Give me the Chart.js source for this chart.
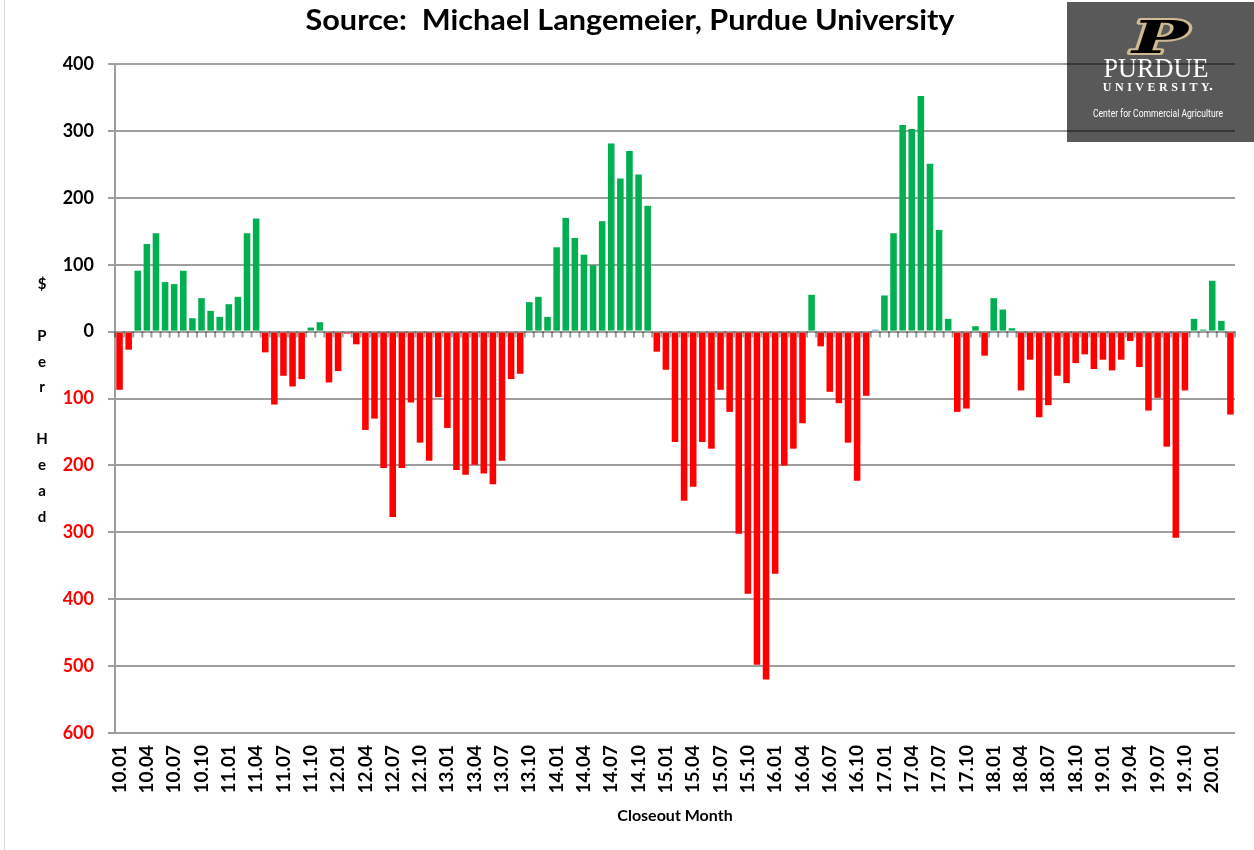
<!DOCTYPE html>
<html>
<head>
<meta charset="utf-8">
<script src="https://cdn.jsdelivr.net/npm/chart.js@4.4.0/dist/chart.umd.min.js"></script>
<style>
  html, body { margin: 0; padding: 0; background: #ffffff; }
  #wrap { width: 1254px; height: 850px; position: relative; }
</style>
</head>
<body>
<div id="wrap"><canvas id="c" width="1254" height="850"></canvas></div>
<script>
// ---------- DATA ----------
const startYear = 10;
const monthCount = 123; // 10.01 .. 20.03
const months = [];
for (let i = 0; i < monthCount; i++) {
  const yr = startYear + Math.floor(i / 12);
  const mo = (i % 12) + 1;
  months.push(yr + '.' + String(mo).padStart(2, '0'));
}

// Monthly feedlot return, $ per head
const returnsPerHead = [
  -87, -27, 91, 131, 147, 74, 71, 91, 20, 50, 31, 22,          // 2010
  41, 52, 147, 169, -31, -109, -66, -82, -71, 6, 14, -76,      // 2011
  -59, -3, -19, -147, -130, -204, -277, -204, -106, -166, -193, -98, // 2012
  -144, -207, -214, -199, -212, -228, -193, -71, -63, 44, 52, 22,    // 2013
  126, 170, 140, 115, 99, 165, 281, 229, 270, 235, 188, -30,   // 2014
  -57, -165, -253, -232, -165, -175, -87, -120, -302, -392, -498, -520, // 2015
  -362, -200, -175, -137, 55, -22, -90, -107, -166, -223, -96, 3, // 2016
  54, 147, 309, 303, 352, 251, 152, 19, -120, -115, 8, -36,    // 2017
  50, 33, 5, -88, -42, -128, -110, -66, -77, -47, -34, -56,    // 2018
  -42, -58, -42, -14, -53, -118, -99, -172, -308, -88, 19, 3,  // 2019
  76, 16, -124                                                  // 2020
];

const yTickValues = [400, 300, 200, 100, 0, -100, -200, -300, -400, -500, -600];
const blueMonth = '16.12';

const titleText = 'Source:  Michael Langemeier, Purdue University';
const xAxisTitle = 'Closeout Month';
const yAxisLetters = ['$', '', 'P', 'e', 'r', '', 'H', 'e', 'a', 'd'];

// ---------- STYLE ----------
const GREEN = '#00b050';
const RED = '#ff0000';
const BLUE = '#4da3dc';
const GRID = 'rgba(0,0,0,0.38)';
const FONT = 'Lato';

const barColors = months.map((m, i) =>
  m === blueMonth ? BLUE : (returnsPerHead[i] >= 0 ? GREEN : RED));

function fitText(ctx, text, x, y, font, targetWidth, align) {
  ctx.save();
  ctx.font = font;
  const w = ctx.measureText(text).width;
  const sx = targetWidth / w;
  ctx.translate(x, y);
  ctx.scale(sx, 1);
  ctx.textAlign = align || 'center';
  ctx.fillText(text, 0, 0);
  ctx.restore();
}

const decorPlugin = {
  id: 'decor',
  beforeDraw(chart) {
    const ctx = chart.ctx;
    ctx.save();
    // faint left border
    ctx.strokeStyle = '#d9d9d9';
    ctx.lineWidth = 1;
    ctx.beginPath(); ctx.moveTo(4.5, 0); ctx.lineTo(4.5, 850); ctx.stroke();

    // Logo box
    ctx.fillStyle = '#595959';
    ctx.fillRect(1067, 2, 187, 140);

    // P mark
    ctx.save();
    ctx.translate(1160, 53);
    ctx.scale(1.7, 1);
    ctx.font = 'bold italic 44px "DejaVu Serif"';
    ctx.textAlign = 'center';
    ctx.textBaseline = 'alphabetic';
    ctx.lineJoin = 'round';
    ctx.strokeStyle = '#cfb991';
    ctx.lineWidth = 4;
    ctx.strokeText('P', 0, 0);
    ctx.fillStyle = '#000000';
    ctx.fillText('P', 0, 0);
    ctx.restore();

    ctx.fillStyle = '#ffffff';
    ctx.textBaseline = 'alphabetic';
    fitText(ctx, 'PURDUE', 1156, 77, '27px "Liberation Serif"', 105, 'center');
    ctx.save();
    ctx.font = 'bold 12px "Liberation Serif"';
    ctx.letterSpacing = '3.5px';
    ctx.textAlign = 'center';
    ctx.fillText('UNIVERSITY', 1158, 91);
    ctx.restore();
    ctx.beginPath(); ctx.arc(1211, 89, 1.3, 0, Math.PI * 2); ctx.fill();
    fitText(ctx, 'Center for Commercial Agriculture', 1158, 117, '11px Roboto', 130, 'center');

    // Title
    ctx.fillStyle = '#000000';
    fitText(ctx, titleText, 630, 30, 'bold 29px ' + FONT, 649, 'center');

    // Y-axis title, stacked letters
    ctx.font = 'bold 15px ' + FONT;
    ctx.textAlign = 'center';
    ctx.textBaseline = 'middle';
    yAxisLetters.forEach((ch, i) => {
      if (ch) ctx.fillText(ch, 42, 284 + i * 25.9);
    });
    ctx.restore();
  },
  beforeDatasetsDraw(chart) {
    const ctx = chart.ctx;
    const xs = chart.scales.x;
    const ys = chart.scales.y;
    const y0 = ys.getPixelForValue(0);
    const step = xs.getPixelForValue(1) - xs.getPixelForValue(0);
    ctx.save();
    ctx.strokeStyle = GRID;
    ctx.lineWidth = 2;
    ctx.beginPath();
    for (let i = 0; i <= months.length; i++) {
      let x;
      if (i === 0) x = xs.getPixelForValue(0) - step / 2;
      else if (i === months.length) x = xs.getPixelForValue(i - 1) + step / 2;
      else x = (xs.getPixelForValue(i - 1) + xs.getPixelForValue(i)) / 2;
      ctx.moveTo(x, y0);
      ctx.lineTo(x, y0 + 6);
    }
    ctx.stroke();
    ctx.restore();
  }
};

new Chart(document.getElementById('c').getContext('2d'), {
  type: 'bar',
  data: {
    labels: months,
    datasets: [{
      data: returnsPerHead,
      backgroundColor: barColors,
      borderWidth: 0,
      barPercentage: 0.72,
      categoryPercentage: 1.0
    }]
  },
  options: {
    responsive: false,
    animation: false,
    devicePixelRatio: 1,
    layout: { padding: { left: 0, right: 19, top: 64, bottom: 0 } },
    plugins: {
      legend: { display: false },
      tooltip: { enabled: false },
      title: { display: false }
    },
    scales: {
      x: {
        grid: { display: false, drawTicks: false },
        border: { display: false },
        ticks: {
          autoSkip: false,
          maxRotation: 90,
          minRotation: 90,
          padding: 12,
          color: '#000000',
          font: { family: FONT, weight: 'bold', size: 19 },
          callback: (v, i) => (i % 3 === 0 ? months[i] : '')
        },
        title: {
          display: true,
          text: xAxisTitle,
          color: '#000000',
          font: { family: FONT, weight: 'bold', size: 16 },
          padding: { top: 4, bottom: 25 }
        },
        afterFit: (s) => { s.height = 117; s.paddingLeft = 0; s.paddingRight = 0; }
      },
      y: {
        min: -600,
        max: 400,
        afterBuildTicks: (s) => { s.ticks = yTickValues.map(v => ({ value: v })); },
        ticks: {
          stepSize: 100,
          padding: 14,
          color: (c) => (c.tick && c.tick.value < 0 ? RED : '#000000'),
          font: { family: FONT, weight: 'bold', size: 18 },
          callback: (v) => String(Math.abs(v))
        },
        grid: { color: GRID, lineWidth: 2, tickLength: 7 },
        border: { color: GRID, width: 2 },
        afterFit: (s) => { s.width = 115; }
      }
    }
  },
  plugins: [decorPlugin]
});
</script>
</body>
</html>
